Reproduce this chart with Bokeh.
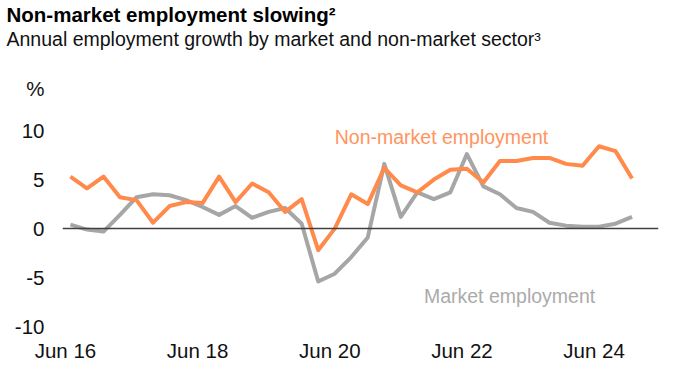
from bokeh.plotting import figure
from bokeh.models import Range1d, FixedTicker, Span, Label, Title
from bokeh.embed import file_html
from bokeh.resources import INLINE

quarters = ["Jun 16", "Sep 16", "Dec 16", "Mar 17", "Jun 17", "Sep 17", "Dec 17", "Mar 18",
            "Jun 18", "Sep 18", "Dec 18", "Mar 19", "Jun 19", "Sep 19", "Dec 19", "Mar 20",
            "Jun 20", "Sep 20", "Dec 20", "Mar 21", "Jun 21", "Sep 21", "Dec 21", "Mar 22",
            "Jun 22", "Sep 22", "Dec 22", "Mar 23", "Jun 23", "Sep 23", "Dec 23", "Mar 24",
            "Jun 24", "Sep 24", "Dec 24"]
non_market = [5.3, 4.1, 5.3, 3.2, 2.9, 0.6, 2.3, 2.7, 2.6, 5.3, 2.7, 4.6, 3.7, 1.7, 3.0, -2.2,
              0.0, 3.5, 2.5, 6.2, 4.4, 3.7, 5.0, 6.0, 6.1, 4.7, 6.9, 6.9, 7.2, 7.2, 6.6, 6.4,
              8.4, 7.9, 5.1]
market = [0.4, -0.1, -0.3, 1.4, 3.2, 3.5, 3.4, 2.9, 2.2, 1.4, 2.3, 1.1, 1.7, 2.1, 0.5, -5.4,
          -4.6, -2.9, -0.9, 6.6, 1.2, 3.7, 3.0, 3.7, 7.6, 4.3, 3.5, 2.1, 1.7, 0.6, 0.3, 0.2,
          0.2, 0.5, 1.2]
x_tick_labels = ["Jun 16", "Jun 18", "Jun 20", "Jun 22", "Jun 24"]
y_ticks = [-10, -5, 0, 5, 10]

ORANGE = "#FF8A4C"
GREY = "#A6A6A6"
FONT = "Liberation Sans"

x = list(range(len(quarters)))

p = figure(frame_width=596, frame_height=255, output_backend="svg", toolbar_location=None,
           x_range=Range1d(-0.48, 35.6), y_range=Range1d(-10.9, 15.1),
           title="Non-market employment slowing\u00b2",
           min_border_left=62, min_border_right=28, min_border_bottom=39, min_border_top=0)
p.background_fill_color = "white"
p.border_fill_color = "white"
p.outline_line_color = None
p.xgrid.visible = False
p.ygrid.visible = False

p.title.text_font = FONT
p.title.text_font_size = "20.5px"
p.title.text_font_style = "bold"
p.title.text_color = "#000000"
p.title.offset = -56
p.title.standoff = 0

# spacer between subtitle and plot frame (added first -> innermost)
spacer = Title(text=" ", text_font=FONT, text_font_size="10px", standoff=18)
p.add_layout(spacer, "above")
sub = Title(text="Annual employment growth by market and non-market sector\u00b3",
            text_font=FONT, text_font_size="19.5px", text_font_style="normal",
            text_color="#111111", offset=-56, standoff=0)
p.add_layout(sub, "above")

# zero line
p.add_layout(Span(location=0, dimension="width", line_color="#404040", line_width=1.5))

p.line(x, market, line_color=GREY, line_width=4, line_join="round")
p.line(x, non_market, line_color=ORANGE, line_width=4, line_join="round")

p.add_layout(Label(x=16, y=9.3, text="Non-market employment", text_font=FONT,
                   text_font_size="19.5px", text_color="#FF9460", text_baseline="middle"))
p.add_layout(Label(x=21.4, y=-6.9, text="Market employment", text_font=FONT,
                   text_font_size="19.5px", text_color="#ABABAB", text_baseline="middle"))

# axes
tick_pos = [quarters.index(t) - 0.3 for t in x_tick_labels]
p.xaxis.ticker = FixedTicker(ticks=tick_pos)
p.xaxis.major_label_overrides = {pos: lab for pos, lab in zip(tick_pos, x_tick_labels)}
pct_pos = 14.3
p.yaxis.ticker = FixedTicker(ticks=y_ticks + [pct_pos])
y_over = {t: str(t) for t in y_ticks}
y_over[pct_pos] = "%"
p.yaxis.major_label_overrides = y_over
for ax in (p.xaxis[0], p.yaxis[0]):
    ax.axis_line_color = None
    ax.major_tick_line_color = None
    ax.minor_tick_line_color = None
    ax.major_tick_out = 0
    ax.major_tick_in = 0
    ax.major_label_text_font = FONT
    ax.major_label_text_font_size = "20.5px"
    ax.major_label_text_color = "#111111"
p.yaxis.major_label_standoff = 18
p.xaxis.major_label_standoff = 3

open("out.html", "w").write(file_html(p, INLINE))
